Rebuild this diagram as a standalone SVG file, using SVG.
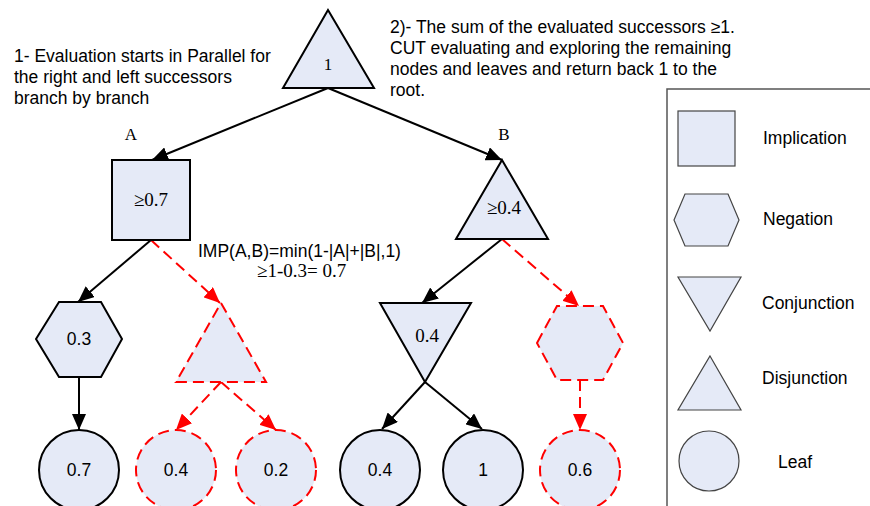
<svg xmlns="http://www.w3.org/2000/svg" width="870" height="506" viewBox="0 0 870 506">
<defs>
<marker id="ab" markerUnits="userSpaceOnUse" markerWidth="18" markerHeight="14" refX="16" refY="7" orient="auto"><path d="M0,0 L16,7 L0,14 z" fill="#000"/></marker>
<marker id="ar" markerUnits="userSpaceOnUse" markerWidth="18" markerHeight="14" refX="16" refY="7" orient="auto"><path d="M0,0 L16,7 L0,14 z" fill="#f00"/></marker>
<style>
.n{fill:#e5eaf7;stroke:#000;stroke-width:2}
.r{fill:#e5eaf7;stroke:#f00;stroke-width:2;stroke-dasharray:11 6}
.lg{fill:#e5eaf7;stroke:#444;stroke-width:1.2}
.cb{fill:none;stroke:#000;stroke-width:2;marker-end:url(#ab)}
.cr{fill:none;stroke:#f00;stroke-width:2;stroke-dasharray:11 6;marker-end:url(#ar)}
.s{font-family:"Liberation Sans",Arial,sans-serif;font-size:17.5px;fill:#000}
.t{font-family:"Liberation Serif","Times New Roman",serif;font-size:17px;fill:#000}
.tl{font-family:"Liberation Serif","Times New Roman",serif;font-size:19px;fill:#000}
.m{text-anchor:middle}
</style>
</defs>
<rect width="870" height="506" fill="#fff"/>

<g id="legend">
<rect x="667" y="89" width="220" height="430" fill="#fff" stroke="#555" stroke-width="1.5"/>
<rect class="lg" x="678" y="111" width="57" height="55"/>
<text class="s" x="763" y="144">Implication</text>
<polygon class="lg" points="674,220 685,194 728,194 739,220 728,246 685,246"/>
<text class="s" x="763" y="225">Negation</text>
<polygon class="lg" points="678,277 741,277 710,331"/>
<text class="s" x="762" y="309">Conjunction</text>
<polygon class="lg" points="710,356 741,410 678,410"/>
<text class="s" x="762" y="384">Disjunction</text>
<circle class="lg" cx="709" cy="461" r="30"/>
<text class="s" x="778" y="468">Leaf</text>
</g>

<g id="notes">
<text class="s" x="14" y="62">1- Evaluation starts in Parallel for</text>
<text class="s" x="14" y="83">the right and left successors</text>
<text class="s" x="14" y="104">branch by branch</text>
<text class="s" x="390" y="33">2)- The sum of the evaluated successors ≥1.</text>
<text class="s" x="390" y="54">CUT evaluating and exploring the remaining</text>
<text class="s" x="390" y="75">nodes and leaves and return back 1 to the</text>
<text class="s" x="390" y="96">root.</text>
<text class="s" x="198" y="257">IMP(A,B)=min(1-|A|+|B|,1)</text>
<text class="tl" x="257" y="277">≥1-0.3= 0.7</text>
<text class="t m" x="131" y="140">A</text>
<text class="t m" x="504" y="140">B</text>
</g>

<g id="connectors">
<line class="cb" x1="328" y1="88" x2="152" y2="160"/>
<line class="cb" x1="328" y1="88" x2="502" y2="160"/>
<line class="cb" x1="151" y1="240" x2="78" y2="302"/>
<line class="cr" x1="151" y1="240" x2="220" y2="303"/>
<line class="cb" x1="79" y1="377" x2="79" y2="430"/>
<line class="cr" x1="221" y1="382" x2="176" y2="430"/>
<line class="cr" x1="221" y1="382" x2="276" y2="430"/>
<line class="cb" x1="502" y1="239" x2="422" y2="303"/>
<line class="cr" x1="502" y1="239" x2="579" y2="306"/>
<line class="cb" x1="425" y1="382" x2="382" y2="429"/>
<line class="cb" x1="425" y1="382" x2="482" y2="429"/>
<line class="cr" x1="580" y1="380" x2="580" y2="430"/>
</g>

<g id="root">
<polygon class="n" points="328,10 374,88 283,88"/>
<text class="t m" x="328" y="70">1</text>
</g>
<g id="nodeA">
<rect class="n" x="112" y="160" width="78" height="80"/>
<text class="tl m" x="151" y="206">≥0.7</text>
</g>
<g id="nodeB">
<polygon class="n" points="502,160 548,239 456,239"/>
<text class="tl m" x="504" y="214">≥0.4</text>
</g>
<g id="neg03">
<polygon class="n" points="36,339 59,302 101,302 122,339 101,377 59,377"/>
<text class="s m" x="79" y="345">0.3</text>
</g>
<g id="disjCut">
<polygon class="r" points="221,303 266,382 176,382"/>
</g>
<g id="conj04">
<polygon class="n" points="380,303 471,303 425,382"/>
<text class="tl m" x="427" y="342">0.4</text>
</g>
<g id="negCut">
<polygon class="r" points="537,343 557,306 603,306 623,343 603,380 557,380"/>
</g>
<g id="leaf07">
<circle class="n" cx="79" cy="470" r="40"/>
<text class="s m" x="79" y="476">0.7</text>
</g>
<g id="leaf04cut">
<circle class="r" cx="176" cy="470" r="40"/>
<text class="s m" x="176" y="476">0.4</text>
</g>
<g id="leaf02cut">
<circle class="r" cx="276" cy="470" r="40"/>
<text class="s m" x="276" y="476">0.2</text>
</g>
<g id="leaf04">
<circle class="n" cx="380" cy="470" r="40"/>
<text class="s m" x="380" y="476">0.4</text>
</g>
<g id="leaf1">
<circle class="n" cx="483" cy="470" r="40"/>
<text class="s m" x="483" y="476">1</text>
</g>
<g id="leaf06cut">
<circle class="r" cx="580" cy="470" r="40"/>
<text class="s m" x="580" y="476">0.6</text>
</g>
</svg>
